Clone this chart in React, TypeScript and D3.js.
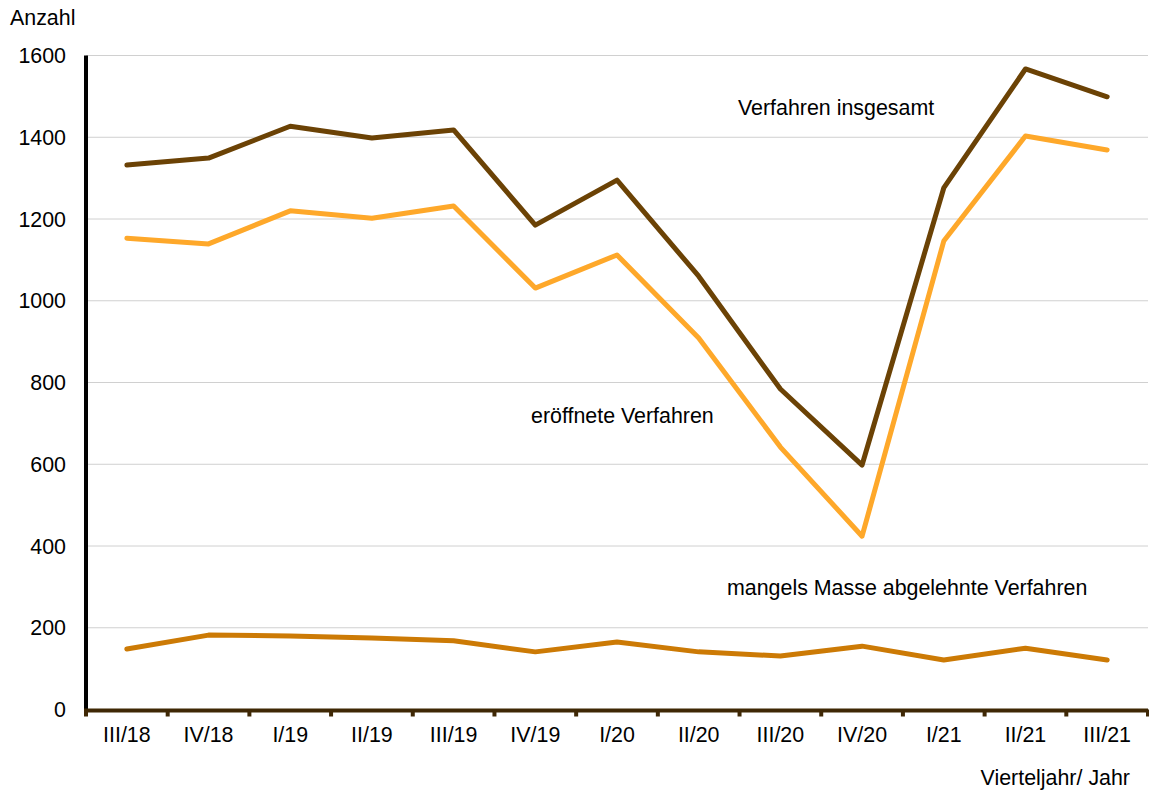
import React from 'react';
import * as d3 from 'd3';

const quarters = ['III/18', 'IV/18', 'I/19', 'II/19', 'III/19', 'IV/19', 'I/20', 'II/20', 'III/20', 'IV/20', 'I/21', 'II/21', 'III/21'];
const insgesamt = [1332, 1349, 1427, 1398, 1418, 1185, 1295, 1060, 784, 598, 1276, 1567, 1499];
const eroeffnet = [1153, 1139, 1220, 1202, 1232, 1031, 1112, 909, 642, 424, 1146, 1403, 1369];
const mangelsMasse = [148, 182, 180, 175, 168, 141, 165, 141, 131, 155, 121, 150, 121];
const yTicks = [0, 200, 400, 600, 800, 1000, 1200, 1400, 1600];

const width = 1149;
const height = 792;
const plot = { left: 86, right: 1148, top: 55.5, bottom: 709.5 };
const font = '"Liberation Sans", Arial, sans-serif';
const fs = 21.4;

const series = [
  { name: 'insgesamt', values: insgesamt, color: '#6b4205' },
  { name: 'eroeffnet', values: eroeffnet, color: '#fea82a' },
  { name: 'mangels', values: mangelsMasse, color: '#cc7a05' },
];

export default function App() {
  const x = d3.scaleBand<string>().domain(quarters).range([plot.left, plot.right]);
  const y = d3.scaleLinear().domain([0, 1600]).range([plot.bottom, plot.top]);
  const line = d3
    .line<number>()
    .x((_, i) => (x(quarters[i]) || 0) + x.bandwidth() / 2)
    .y((d) => y(d));

  // tick positions at band boundaries
  const bounds = quarters.map((q) => x(q) || 0).concat([plot.right]);

  return (
    <svg
      width={width}
      height={height}
      style={{ position: 'absolute', left: 0, top: 0, background: '#fff' }}
      fontFamily={font}
    >
      {yTicks.map((t) =>
        t > 0 ? (
          <line key={'g' + t} x1={plot.left} x2={plot.right} y1={y(t)} y2={y(t)} stroke="#d0d0d0" strokeWidth={1} />
        ) : null
      )}
      {yTicks.map((t) => (
        <text key={'yl' + t} x={66} y={y(t)} dy="0.36em" textAnchor="end" fontSize={fs} fill="#000">
          {t}
        </text>
      ))}
      <text x={10} y={25} fontSize={fs} fill="#000">Anzahl</text>

      {series.map((s) => (
        <path
          key={s.name}
          d={line(s.values) || ''}
          fill="none"
          stroke={s.color}
          strokeWidth={5}
          strokeLinejoin="round"
          strokeLinecap="round"
        />
      ))}

      {/* y axis */}
      <line x1={86} x2={86} y1={plot.top} y2={plot.bottom + 2} stroke="#000" strokeWidth={4} />
      {/* x axis */}
      <line x1={84} x2={plot.right} y1={plot.bottom + 1} y2={plot.bottom + 1} stroke="#3f2805" strokeWidth={4} />
      {bounds.map((b, i) => (
        <line key={'xt' + i} x1={b} x2={b} y1={plot.bottom} y2={plot.bottom + 7} stroke="#3f2805" strokeWidth={4} />
      ))}
      {quarters.map((q) => (
        <text key={q} x={(x(q) || 0) + x.bandwidth() / 2} y={742} textAnchor="middle" fontSize={fs} fill="#000">
          {q}
        </text>
      ))}
      <text x={1130} y={785} textAnchor="end" fontSize={fs} fill="#000">Vierteljahr/ Jahr</text>

      <text x={738} y={115} fontSize={fs} fill="#000">Verfahren insgesamt</text>
      <text x={531} y={423} fontSize={fs} fill="#000">eröffnete Verfahren</text>
      <text x={727} y={595} fontSize={fs} fill="#000">mangels Masse abgelehnte Verfahren</text>
    </svg>
  );
}
